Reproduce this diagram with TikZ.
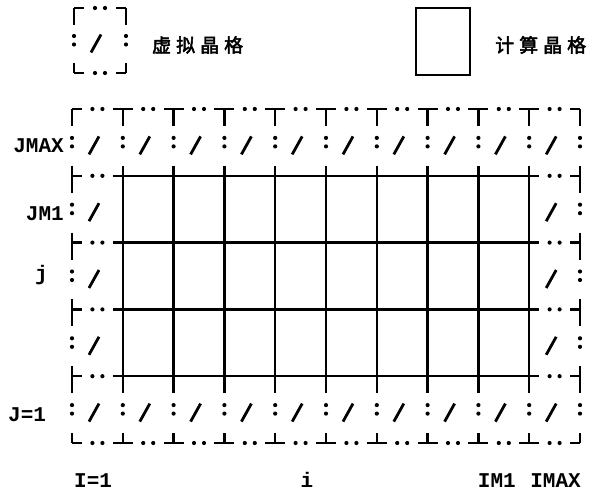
\documentclass[tikz,border=0pt]{standalone}
\usepackage{fontspec}
\setmainfont{Liberation Mono}
\newfontfamily\cjk{Noto Sans CJK SC}[AutoFakeBold=2.5]
\newcommand\ghh[3]{%
  \draw[gl] (#1,#3) -- ({#1+10},#3);
  \draw[gl] ({#2-10},#3) -- (#2,#3);
  \fill ({(#1+#2)/2-5},#3) circle[radius=2.1pt];
  \fill ({(#1+#2)/2+5},#3) circle[radius=2.1pt];}
\newcommand\ghv[3]{%
  \draw[gl] (#3,#1) -- (#3,{#1+17});
  \draw[gl] (#3,{#2-10}) -- (#3,#2);
  \fill (#3,{(#1+#2)/2-4.5}) circle[radius=2.1pt];
  \fill (#3,{(#1+#2)/2+4}) circle[radius=2.1pt];}
\newcommand\ghs[3]{%
  \draw[sl] ({#1+17},{(#2+#3)/2+12}) -- ({#1+27},{(#2+#3)/2-6});}
\begin{document}
\begin{tikzpicture}[x=1pt,y=-1pt,
  gl/.style={line width=2.3pt,line cap=square},
  sl/.style={line width=2.8pt},
  lbl/.style={font=\fontsize{21}{21}\selectfont\bfseries, inner sep=0pt},
  cjklbl/.style={font=\fontsize{19}{19}\selectfont\cjk\bfseries, inner sep=0pt}]
\fill[white] (0,0) rectangle (606,492);
\useasboundingbox (0,0) rectangle (606,492);
% ghost row top and bottom
\foreach \i in {0,...,9} {
  \pgfmathsetmacro\xa{72+50.8*\i}
  \pgfmathsetmacro\xb{72+50.8*(\i+1)}
  \ghh{\xa}{\xb}{109}
  \ghh{\xa}{\xb}{443}
  \ghs{\xa}{109}{175.8}
  \ghs{\xa}{376.2}{443}
}
\foreach \i in {0,...,10} {
  \pgfmathsetmacro\xa{72+50.8*\i}
  \ghv{109}{175.8}{\xa}
  \ghv{376.2}{443}{\xa}
}
% ghost columns left and right
\foreach \j in {1,2,3} {
  \pgfmathsetmacro\ya{109+66.8*\j}
  \pgfmathsetmacro\yb{109+66.8*(\j+1)}
  \ghv{\ya}{\yb}{72}
  \ghv{\ya}{\yb}{580}
  \ghs{72}{\ya}{\yb}
  \ghs{529.2}{\ya}{\yb}
}
\foreach \j in {1,...,4} {
  \pgfmathsetmacro\ya{109+66.8*\j}
  \ghh{72}{122.8}{\ya}
  \ghh{529.2}{580}{\ya}
  \draw[gl] (122.8,\ya) -- (529.2,\ya);
}
\foreach \i in {1,...,9} {
  \pgfmathsetmacro\xa{72+50.8*\i}
  \draw[gl] (\xa,175.8) -- (\xa,376.2);
}
% legend
\ghh{74}{126}{8}
\ghh{74}{126}{73}
\ghv{8}{73}{74}
\ghv{8}{73}{126}
\ghs{74}{8}{73}
\node[draw, line width=2.3pt, minimum width=54pt, minimum height=67pt, inner sep=0pt] (comp) at (443,41.5) {};
\node[cjklbl, anchor=west] (ghostlbl) at (152,45) {虚\hspace{5pt}拟\hspace{5pt}晶\hspace{5pt}格};
\node[cjklbl, anchor=west] (complbl) at (495,45) {计\hspace{5pt}算\hspace{5pt}晶\hspace{5pt}格};
% labels
\node[lbl, anchor=base east] (jmax) at (64,153) {JMAX};
\node[lbl, anchor=base east] (jm1) at (64,221) {JM1};
\node[lbl, anchor=base west] (jj) at (35,281) {j};
\node[lbl, anchor=base west] (j1) at (8,421) {J=1};
\node[lbl, anchor=base west] (i1) at (74,487) {I=1};
\node[lbl, anchor=base] (ii) at (307,487) {i};
\node[lbl, anchor=base east] (im1) at (516,487) {IM1};
\node[lbl, anchor=base east] (imax) at (581,487) {IMAX};
\end{tikzpicture}
\end{document}
